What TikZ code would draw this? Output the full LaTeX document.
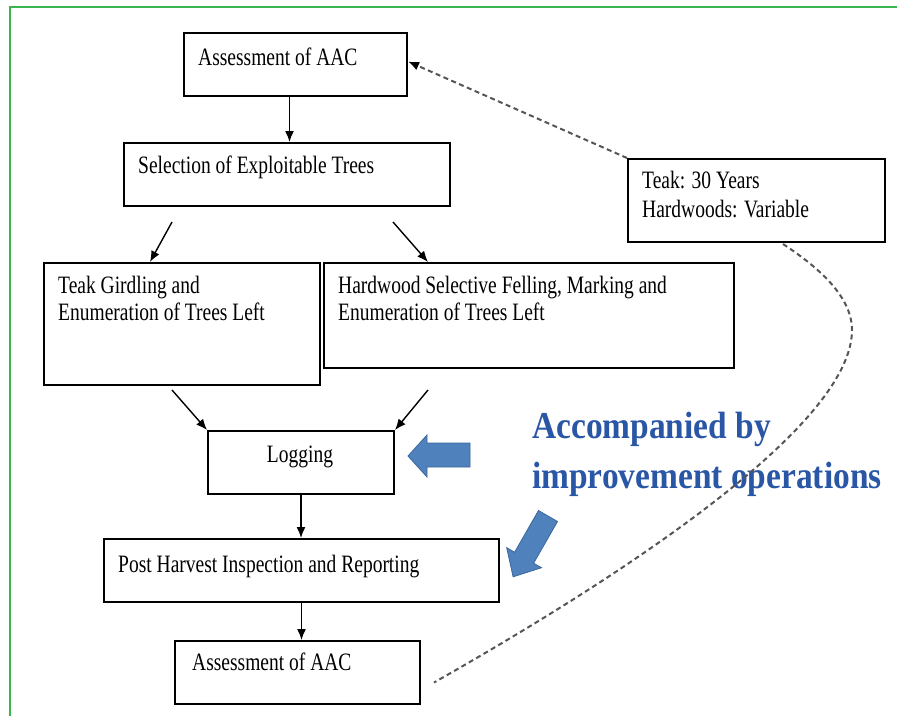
\documentclass[tikz,border=0pt]{standalone}
\usepackage{fontspec}
\setmainfont{Liberation Serif}
\newfontfamily\boxfont[FakeStretch=0.78]{Liberation Serif}
\newfontfamily\headfont[FakeStretch=0.88]{Liberation Serif}
\usetikzlibrary{arrows.meta,calc}
\definecolor{framegreen}{HTML}{3DB54E}
\definecolor{headblue}{HTML}{2A56A6}
\definecolor{arrowfill}{HTML}{4F81BD}
\definecolor{arrowedge}{HTML}{3A679C}
\definecolor{dashgray}{HTML}{555555}
\begin{document}
\begin{tikzpicture}[x=1pt,y=-1pt,
  stepbox/.style={draw, line width=2pt, rectangle, inner sep=0pt, anchor=north west},
  txt/.style={font=\boxfont\fontsize{25}{27}\selectfont, inner sep=0pt, anchor=base west},
  head/.style={font=\headfont\bfseries\fontsize{38}{50}\selectfont, text=headblue, inner sep=0pt, anchor=base west},
  flow/.style={line width=1.4pt, -{Latex[length=11pt,width=9pt]}},
  loop/.style={dashgray, line width=2pt, dash pattern=on 5pt off 3.5pt},
  blockarrow/.style={fill=arrowfill, draw=arrowedge, line width=0.8pt, line join=miter}]
\useasboundingbox (0,0) rectangle (897,716);

% frame
\draw[framegreen, line width=2pt] (10,716) -- (10,7) -- (897,7);

% boxes
\node[stepbox, minimum width=223pt, minimum height=63pt] (aac1) at (183,32) {};
\node[stepbox, minimum width=326pt, minimum height=63pt] (sel) at (123,142) {};
\node[stepbox, minimum width=276pt, minimum height=122pt] (teak) at (43,262) {};
\node[stepbox, minimum width=410pt, minimum height=105pt] (hw) at (323,262) {};
\node[stepbox, minimum width=257pt, minimum height=83pt] (cyc) at (627,158) {};
\node[stepbox, minimum width=186pt, minimum height=63pt] (logging) at (207,430) {};
\node[stepbox, minimum width=395pt, minimum height=63pt] (phi) at (103,538) {};
\node[stepbox, minimum width=245pt, minimum height=63pt] (aac2) at (174,640) {};

% box texts
\node[txt] (aac1t) at (198,65) {Assessment of AAC};
\node[txt] (selt) at (138,173) {Selection of Exploitable Trees};
\node[txt] (teakt) at (58,293) {\vtop{\hbox{Teak Girdling and}\hbox{Enumeration of Trees Left}}};
\node[txt] (hwt) at (338,293) {\vtop{\hbox{Hardwood Selective Felling, Marking and}\hbox{Enumeration of Trees Left}}};
\node[txt] (cyct) at (642,188) {\baselineskip=29pt\vtop{\hbox{Teak: 30 Years}\hbox{Hardwoods: Variable}}};
\node[txt, anchor=base] (logt) at (300,462) {Logging};
\node[txt] (phit) at (118,572) {Post Harvest Inspection and Reporting};
\node[txt] (aac2t) at (192,670) {Assessment of AAC};

% heading
\node[head] (note) at (532,438) {\vtop{\hbox{Accompanied by}\hbox{improvement operations}}};

% flow arrows
\draw[flow] ([xshift=-6pt]aac1.south) -- ([xshift=-6pt]aac1.south |- sel.north);
\draw[flow] ([shift={(49,15)}]sel.south west) -- ([shift={(107,0)}]teak.north west);
\draw[flow] ([shift={(270,15)}]sel.south west) -- ([shift={(105,0)}]hw.north west);
\draw[flow] ([shift={(129,4)}]teak.south west) -- (logging.north west);
\draw[flow] ([shift={(105,21)}]hw.south west) -- (logging.north east);
\draw[flow] (logging.south) -- (logging.south |- phi.north);
\draw[flow] (phi.south) -- (phi.south |- aac2.north);

% dashed cycle
\draw[loop, -{Latex[length=11pt,width=9pt,color=black]}] (cyc.north west) -- ([yshift=3pt]aac1.east);
\draw[loop] ([shift={(156,1)}]cyc.south west) .. controls (815,265) and (852,295) .. (852,330)
  .. controls (852,420) and (650,560) .. ([shift={(13,10)}]aac2.east);

% block arrows
\filldraw[blockarrow] (470,443) -- (427,443) -- (427,435) -- (408,456) -- (427,477) -- (427,467) -- (470,467) -- cycle;
\filldraw[blockarrow] (557.5,521.5) -- (533.6,563.2) -- (541.5,567.7) -- (513.1,576.8) -- (506.7,547.7) -- (514.6,552.2) -- (538.5,510.5) -- cycle;
\end{tikzpicture}
\end{document}
